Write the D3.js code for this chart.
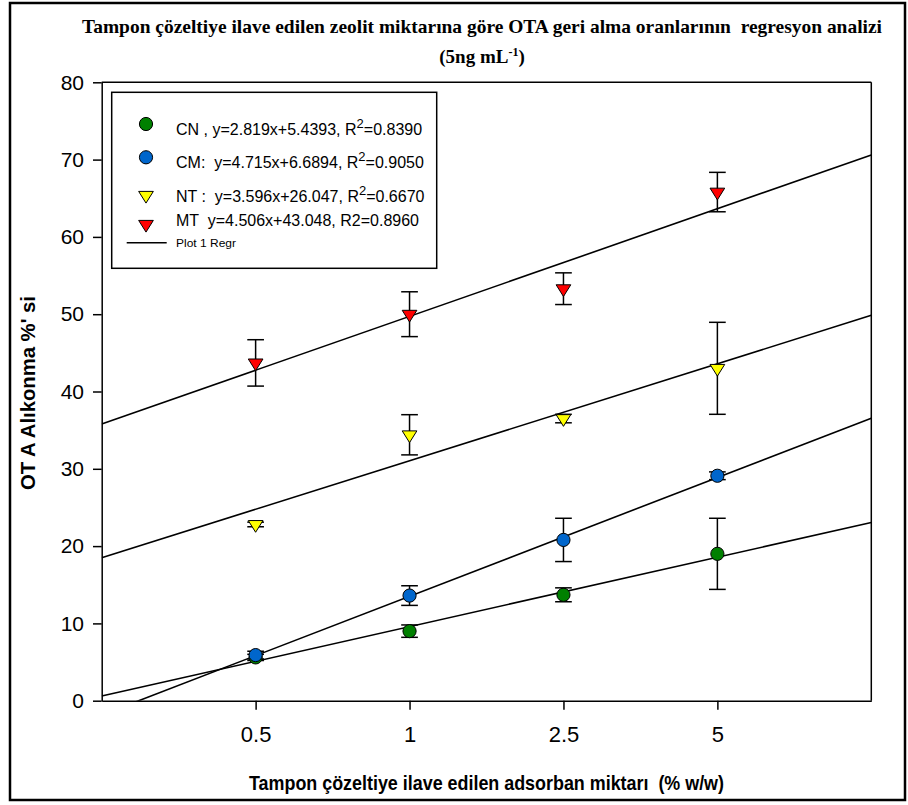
<!DOCTYPE html>
<html>
<head>
<meta charset="utf-8">
<script src="https://cdn.jsdelivr.net/npm/d3@7/dist/d3.min.js"></script>
<style>
html,body{margin:0;padding:0;background:#fff;}
svg{display:block;}
text{white-space:pre;}
</style>
</head>
<body>
<svg id="chart" width="908" height="805"></svg>
<script>
// ---- data ----
const categories = ["0.5", "1", "2.5", "5"];
const yTicks = [0, 10, 20, 30, 40, 50, 60, 70, 80];

const cnValues = [5.6, 9.0, 13.7, 19.0];
const cnErrors = [0.4, 0.8, 0.9, 4.6];
const cmValues = [5.9, 13.6, 20.8, 29.1];
const cmErrors = [0.5, 1.27, 2.8, 0.5];
const ntValues = [22.8, 34.4, 36.5, 43.0];
const ntErrors = [0.3, 2.6, 0.55, 5.95];
const mtValues = [43.7, 50.0, 53.3, 65.8];
const mtErrors = [3.0, 2.9, 2.05, 2.55];

const legendLabels = [
  ["CN , y=2.819x+5.4393, R", "2", "=0.8390"],
  ["CM:  y=4.715x+6.6894, R", "2", "=0.9050"],
  ["NT :  y=3.596x+26.047, R", "2", "=0.6670"],
  ["MT  y=4.506x+43.048, R2=0.8960", "", ""]
];

const series = [
  {name: "CN", values: cnValues, errors: cnErrors, shape: "circle", color: "#008000"},
  {name: "CM", values: cmValues, errors: cmErrors, shape: "circle", color: "#0066CC"},
  {name: "NT", values: ntValues, errors: ntErrors, shape: "triangle", color: "#FFFF00"},
  {name: "MT", values: mtValues, errors: mtErrors, shape: "triangle", color: "#FF0000"}
];

// ---- layout ----
const svg = d3.select("#chart");
const L = 101.7, R = 871.3, T = 82.3, B = 700.7;
const x = d3.scaleLinear().domain([0, 5]).range([L, R]);
const y = d3.scaleLinear().domain([0, 80]).range([B, T]);
const xPos = i => x(i + 1);
const SANS = "Liberation Sans, Arial, sans-serif";
const SERIF = "Liberation Serif, Times New Roman, serif";

// outer frame
svg.append("rect").attr("x", 10).attr("y", 3).attr("width", 895).attr("height", 797)
  .attr("fill", "none").attr("stroke", "#000").attr("stroke-width", 2.5);

// title
svg.append("text").attr("x", 482).attr("y", 33).attr("text-anchor", "middle")
  .attr("font-family", SERIF).attr("font-weight", "bold")
  .attr("font-size", 19).attr("textLength", 800).attr("lengthAdjust", "spacingAndGlyphs")
  .text("Tampon çözeltiye ilave edilen zeolit miktarına göre OTA geri alma oranlarının  regresyon analizi");
const t2 = svg.append("text").attr("x", 482).attr("y", 63).attr("text-anchor", "middle")
  .attr("font-family", SERIF).attr("font-weight", "bold").attr("font-size", 19);
t2.append("tspan").text("(5ng mL");
t2.append("tspan").attr("dy", -7).attr("font-size", 12).text("-1");
t2.append("tspan").attr("dy", 7).text(")");

// clip
svg.append("clipPath").attr("id", "plotclip").append("rect")
  .attr("x", L).attr("y", T).attr("width", R - L).attr("height", B - T);

// regression lines (OLS on category positions 1..4)
function ols(vals) {
  const xs = vals.map((v, i) => i + 1);
  const mx = d3.mean(xs), my = d3.mean(vals);
  const sxy = d3.sum(xs, (xv, i) => (xv - mx) * (vals[i] - my));
  const sxx = d3.sum(xs, xv => (xv - mx) * (xv - mx));
  const b = sxy / sxx;
  return {a: my - b * mx, b: b};
}
const lineG = svg.append("g").attr("clip-path", "url(#plotclip)");
series.forEach(s => {
  const f = ols(s.values);
  lineG.append("line")
    .attr("x1", x(0)).attr("y1", y(f.a))
    .attr("x2", x(5)).attr("y2", y(f.a + f.b * 5))
    .attr("stroke", "#000").attr("stroke-width", 1.6);
});

// axes
const yAxis = d3.axisLeft(y).tickValues(yTicks).tickSize(8.7).tickSizeOuter(0).tickPadding(9);
const gy = svg.append("g").attr("transform", `translate(${L},0)`).call(yAxis);
const xAxis = d3.axisBottom(x).tickValues([1, 2, 3, 4]).tickFormat(d => categories[d - 1])
  .tickSize(9).tickSizeOuter(0).tickPadding(17);
const gx = svg.append("g").attr("transform", `translate(0,${B})`).call(xAxis);
[gy, gx].forEach(g => {
  g.selectAll("path,line").attr("stroke", "#000").attr("stroke-width", 1.5);
  g.selectAll("text").attr("font-family", SANS).attr("fill", "#000");
});
gy.selectAll("text").attr("font-size", 21);
gx.selectAll("text").attr("font-size", 22);

// top/right borders
svg.append("line").attr("x1", L).attr("x2", R).attr("y1", T).attr("y2", T)
  .attr("stroke", "#000").attr("stroke-width", 1.5);
svg.append("line").attr("x1", R).attr("x2", R).attr("y1", T).attr("y2", B)
  .attr("stroke", "#000").attr("stroke-width", 1.5);

// axis titles
svg.append("text").attr("x", 486.5).attr("y", 790).attr("text-anchor", "middle")
  .attr("font-family", SANS).attr("font-weight", "bold")
  .attr("font-size", 21).attr("textLength", 475).attr("lengthAdjust", "spacingAndGlyphs")
  .text("Tampon çözeltiye ilave edilen adsorban miktarı  (% w/w)");
svg.append("text").attr("transform", "translate(35,393) rotate(-90)").attr("text-anchor", "middle")
  .attr("font-family", SANS).attr("font-weight", "bold")
  .attr("font-size", 20).attr("textLength", 194).attr("lengthAdjust", "spacingAndGlyphs")
  .text("OT A Alıkonma %' si");

// symbols
const triW = 14.7, triH = 11.7;
function drawSymbol(g, shape, cx, cy, color) {
  if (shape === "circle") {
    g.append("circle").attr("cx", cx).attr("cy", cy).attr("r", 6.6)
      .attr("fill", color).attr("stroke", "#000").attr("stroke-width", 1);
  } else {
    // downward triangle centered on centroid
    const top = cy - triH / 3, bot = cy + 2 * triH / 3;
    g.append("path")
      .attr("d", `M${cx - triW / 2},${top}L${cx + triW / 2},${top}L${cx},${bot}Z`)
      .attr("fill", color).attr("stroke", "#000").attr("stroke-width", 1);
  }
}

const dataG = svg.append("g");
series.forEach(s => {
  s.values.forEach((v, i) => {
    const cx = xPos(i), e = s.errors[i];
    const capW = 16.7;
    dataG.append("line").attr("x1", cx).attr("x2", cx).attr("y1", y(v - e)).attr("y2", y(v + e))
      .attr("stroke", "#000").attr("stroke-width", 1.5);
    [v - e, v + e].forEach(cv => {
      dataG.append("line").attr("x1", cx - capW / 2).attr("x2", cx + capW / 2)
        .attr("y1", y(cv)).attr("y2", y(cv)).attr("stroke", "#000").attr("stroke-width", 1.5);
    });
  });
});
series.forEach(s => {
  s.values.forEach((v, i) => drawSymbol(dataG, s.shape, xPos(i), y(v), s.color));
});

// legend
const lg = svg.append("g");
lg.append("rect").attr("x", 111.7).attr("y", 92.3).attr("width", 325).attr("height", 176)
  .attr("fill", "#fff").attr("stroke", "#000").attr("stroke-width", 1.5);
const symY = [124, 157.3, 195.3, 224.3];
const txtY = [135, 168.3, 201.7, 226];
series.forEach((s, i) => {
  drawSymbol(lg, s.shape, 146, symY[i], s.color);
  const t = lg.append("text").attr("x", 176).attr("y", txtY[i])
    .attr("font-family", SANS).attr("font-size", 16);
  t.append("tspan").text(legendLabels[i][0]);
  if (legendLabels[i][1]) {
    t.append("tspan").attr("dy", -7).attr("font-size", 13).text(legendLabels[i][1]);
    t.append("tspan").attr("dy", 7).text(legendLabels[i][2]);
  }
});
lg.append("line").attr("x1", 126.7).attr("x2", 166.7).attr("y1", 242.7).attr("y2", 242.7)
  .attr("stroke", "#000").attr("stroke-width", 1.5);
lg.append("text").attr("x", 176).attr("y", 247)
  .attr("font-family", SANS).attr("font-size", 11)
  .attr("textLength", 60).attr("lengthAdjust", "spacingAndGlyphs").text("Plot 1 Regr");
</script>
</body>
</html>
